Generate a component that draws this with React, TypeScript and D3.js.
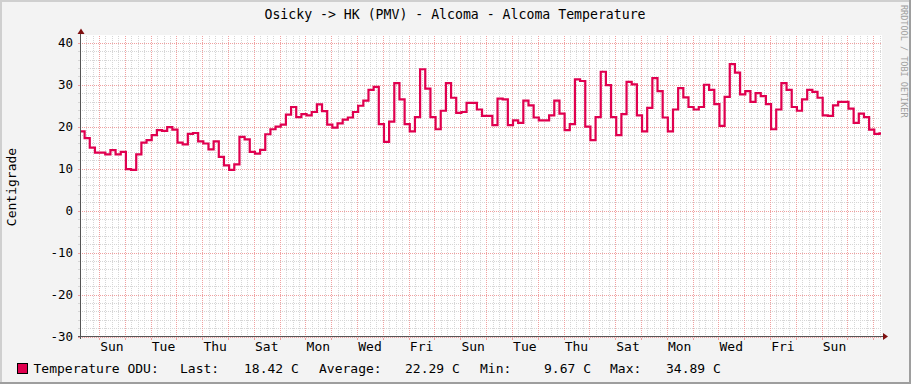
import React from "react";
import * as d3 from "d3";

const W = 911;
const H = 384;

// time axis: 31 days, sampled in 4.8 h consolidated steps
const START_MS = Date.UTC(2023, 6, 1, 7, 15);
const HOUR_MS = 3600 * 1000;
const RANGE_HOURS = 744;
const STEP_HOURS = 4.8;
const STEP_OFFSET_HOURS = -1.44;

const TEMPS = [
  18.9, 17.3, 15.0, 13.8, 13.8, 13.4, 14.4, 13.4, 14.0, 9.9,
  9.7, 13.4, 16.2, 16.8, 18.0, 19.2, 19.0, 19.9, 19.3, 16.2,
  15.8, 18.3, 18.5, 16.5, 16.0, 14.6, 16.5, 12.8, 10.8, 9.7,
  11.0, 17.6, 17.0, 14.0, 13.6, 14.5, 18.2, 19.4, 20.0, 20.5,
  22.9, 24.7, 22.3, 23.0, 22.7, 23.5, 25.3, 23.7, 20.5, 19.8,
  20.8, 21.7, 22.2, 23.5, 25.0, 26.2, 28.8, 29.5, 20.6, 16.4,
  21.2, 30.4, 26.5, 20.6, 18.9, 22.3, 33.7, 29.1, 22.3, 19.4,
  23.8, 30.4, 26.9, 23.3, 23.5, 25.7, 25.7, 24.1, 22.6, 22.6,
  20.4, 26.7, 26.5, 20.4, 21.5, 20.9, 26.2, 25.1, 22.2, 21.5,
  21.5, 22.7, 26.2, 23.1, 19.2, 20.6, 31.3, 30.9, 20.0, 16.8,
  22.3, 33.1, 29.9, 22.3, 18.0, 23.0, 30.7, 30.1, 22.7, 18.9,
  24.5, 31.6, 28.5, 22.2, 18.9, 24.1, 29.2, 27.0, 24.7, 24.1,
  24.7, 30.0, 28.8, 25.4, 20.2, 27.1, 34.9, 32.9, 27.7, 28.5,
  25.9, 28.0, 27.3, 25.4, 19.4, 24.1, 30.4, 28.8, 24.7, 23.8,
  26.5, 28.8, 28.3, 26.9, 22.7, 22.6, 25.1, 25.9, 25.9, 24.3,
  20.9, 23.1, 22.3, 19.3, 18.3, 18.4,
];

const Y_MIN = -30;
const Y_MAX = 41.5;
const Y_TICKS = [-30, -20, -10, 0, 10, 20, 30, 40];
const Y_TICK_LABELS = ["-30", "-20", "-10", "0", "10", "20", "30", "40"];
const DAY_LABELS = ["Sun", "Tue", "Thu", "Sat", "Mon", "Wed", "Fri", "Sun", "Tue", "Thu", "Sat", "Mon", "Wed", "Fri", "Sun"];

const TITLE = "Osicky -> HK (PMV) - Alcoma - Alcoma Temperature";
const Y_TITLE = "Centigrade";
const SERIES_NAME = "Temperature ODU:";
const LEGEND_ITEMS = ["Last:", "18.42 C", "Average:", "22.29 C", "Min:", "9.67 C", "Max:", "34.89 C"];
const LEGEND_X = [180, 244, 319, 405, 480, 544, 610, 666];
const WATERMARK = "RRDTOOL / TOBI OETIKER";

const LINE_COLOR = "#E0004F";
const GRID = "#d6d6d6";
const MGRID = "#f0a0a0";
const FONT = "'DejaVu Sans Mono', monospace";

export default function App() {
  const X0 = 81, X1 = 881, Y0 = 336.5, Y1 = 36.5;
  const start = new Date(START_MS);
  const end = new Date(START_MS + RANGE_HOURS * HOUR_MS);
  const x = d3.scaleUtc().domain([start, end]).range([X0, X1]);
  const y = d3.scaleLinear().domain([Y_MIN, Y_MAX]).range([Y0, Y1]);

  const pts: [Date, number][] = TEMPS.map((v, k) => {
    const h = Math.max(0, STEP_OFFSET_HOURS + k * STEP_HOURS);
    return [new Date(START_MS + h * HOUR_MS), v];
  });
  pts.push([end, TEMPS[TEMPS.length - 1]]);
  const line = d3
    .line<[Date, number]>()
    .x((d) => x(d[0]))
    .y((d) => y(d[1]))
    .curve(d3.curveStepAfter);

  const minorV = d3.utcHour.every(6)!.range(start, end).filter((d) => d.getUTCHours() !== 0);
  const majorV = d3.utcDay.range(start, end);
  const minorH = d3.range(-30, 41.6, 2).filter((v) => v % 10 !== 0);
  const px = (v: number) => Math.round(v) + 0.5;

  const firstMidnight = majorV[0];
  const dayLabelPos = DAY_LABELS.map((_, i) =>
    x(new Date(firstMidnight.getTime() + (i * 48 + 12) * HOUR_MS))
  );

  return (
    <svg
      width={W}
      height={H}
      style={{ position: "absolute", left: 0, top: 0, display: "block" }}
      fontFamily={FONT}
    >
      <rect x={0} y={0} width={W} height={H} fill="#f3f3f3" />
      {/* 3D frame */}
      <rect x={0} y={0} width={W} height={2} fill="#cfcfcf" />
      <rect x={0} y={0} width={2} height={H} fill="#cfcfcf" />
      <rect x={0} y={H - 2} width={W} height={2} fill="#9e9e9e" />
      <rect x={W - 2} y={0} width={2} height={H} fill="#9e9e9e" />

      <rect x={X0} y={35} width={X1 - X0 + 1} height={Y0 - 35} fill="#ffffff" />

      {/* minor grid */}
      <g stroke={GRID} strokeWidth={1} strokeDasharray="1,1" shapeRendering="crispEdges">
        {minorH.map((v) => (
          <line key={"mh" + v} x1={X0 - 1} x2={X1 + 1} y1={px(y(v))} y2={px(y(v))} />
        ))}
        {minorV.map((d) => (
          <line key={"mv" + d.getTime()} x1={px(x(d))} x2={px(x(d))} y1={Y1 - 1} y2={Y0} />
        ))}
      </g>
      <g stroke={GRID} strokeWidth={1} shapeRendering="crispEdges">
        {minorH.map((v) => (
          <line key={"mht" + v} x1={X0 - 3} x2={X0 - 1} y1={px(y(v))} y2={px(y(v))} />
        ))}
      </g>
      {/* major grid */}
      <g stroke={MGRID} strokeWidth={1} strokeDasharray="1,1" shapeRendering="crispEdges">
        {Y_TICKS.map((v) => (
          <line key={"Mh" + v} x1={X0 - 1} x2={X1 + 1} y1={px(y(v))} y2={px(y(v))} />
        ))}
        {majorV.map((d) => (
          <line key={"Mv" + d.getTime()} x1={px(x(d))} x2={px(x(d))} y1={Y1 - 1} y2={Y0} />
        ))}
      </g>
      <g stroke={MGRID} strokeWidth={1} shapeRendering="crispEdges">
        {Y_TICKS.map((v) => (
          <line key={"Mht" + v} x1={X0 - 3} x2={X0 - 1} y1={px(y(v))} y2={px(y(v))} />
        ))}
        {majorV.map((d) => (
          <line key={"Mvt" + d.getTime()} x1={px(x(d))} x2={px(x(d))} y1={Y0 + 1} y2={Y0 + 3} />
        ))}
      </g>

      {/* data line */}
      <path d={line(pts) || ""} fill="none" stroke={LINE_COLOR} strokeWidth={2.2} strokeLinejoin="miter" />

      {/* axes */}
      <g stroke="#555" strokeWidth={1} shapeRendering="crispEdges">
        <line x1={80.5} x2={80.5} y1={Y0 + 2} y2={32} />
        <line x1={78} x2={884} y1={Y0} y2={Y0} />
      </g>
      <path d="M81,28.5 L77.5,34 L84.5,34 Z" fill="#7f1010" />
      <path d="M888,336.5 L883,333 L883,340 Z" fill="#7f1010" />

      {/* y labels */}
      <g fontSize={12.5} fill="#000" textAnchor="end">
        {Y_TICKS.map((v, i) => (
          <text key={"yl" + v} x={73} y={y(v) + 4.3}>
            {Y_TICK_LABELS[i]}
          </text>
        ))}
      </g>
      {/* x labels */}
      <g fontSize={13} fill="#000" textAnchor="middle">
        {DAY_LABELS.map((l, i) => (
          <text key={"xl" + i} x={dayLabelPos[i]} y={351}>
            {l}
          </text>
        ))}
      </g>

      <text x={455} y={19} fontSize={13.2} textAnchor="middle" fill="#000">
        {TITLE}
      </text>
      <text transform="translate(16,187) rotate(-90)" fontSize={13} textAnchor="middle" fill="#000">
        {Y_TITLE}
      </text>
      <text transform="translate(900.5,5) rotate(90)" fontSize={8.5} fill="#a0a0a0">
        {WATERMARK}
      </text>

      {/* legend */}
      <rect x={17.5} y={363.5} width={10} height={10} fill={LINE_COLOR} stroke="#000" strokeWidth={1} />
      <g fontSize={13} fill="#000">
        <text x={33.5} y={372.5}>{SERIES_NAME}</text>
        {LEGEND_ITEMS.map((t, i) => (
          <text key={"lg" + i} x={LEGEND_X[i]} y={372.5}>
            {t}
          </text>
        ))}
      </g>
    </svg>
  );
}
